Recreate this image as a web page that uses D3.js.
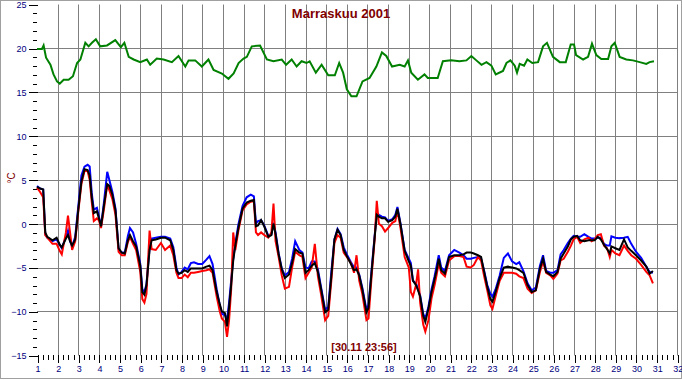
<!DOCTYPE html>
<html lang="fi">
<head>
<meta charset="UTF-8">
<title>Marraskuu 2001</title>
<style>
  body { margin: 0; background: #ffffff; }
  svg { display: block; font-family: "Liberation Sans", Arial, sans-serif; }
</style>
<script src="https://cdn.jsdelivr.net/npm/d3@7"></script>
</head>
<body>
<script>
// ---- data ----
const dayTicks = d3.range(1, 33);               // 1..32
const tempMajor = [-15, -10, -5, 0, 5, 10, 15, 20, 25];
const tempGrid = [-10, -5, 0, 5, 10, 15, 20];

// upper (green) series
const greenDays = [1.0,1.24,1.32,1.44,1.65,1.8,1.97,2.1,2.29,2.53,2.74,2.94,3.1,3.34,3.5,3.66,3.85,4.06,4.39,4.79,
  5.06,5.23,5.44,5.68,6.0,6.32,6.48,6.8,7.13,7.53,7.85,8.18,8.34,8.66,8.98,9.3,9.55,9.95,10.27,10.52,10.76,
  11.0,11.16,11.4,11.8,12.13,12.45,12.85,13.06,13.33,13.57,13.81,14.05,14.2,14.5,14.78,15.1,15.42,15.63,15.82,
  16.0,16.22,16.47,16.76,17.1,17.43,17.7,17.91,18.19,18.56,18.8,18.96,19.12,19.44,19.76,19.92,20.4,20.65,
  21.05,21.45,21.79,22.03,22.27,22.52,22.76,23.0,23.21,23.56,23.73,23.92,24.13,24.24,24.37,24.58,24.74,24.98,
  25.26,25.5,25.69,25.98,26.31,26.6,26.84,27.0,27.1,27.44,27.68,27.87,28.08,28.32,28.65,28.81,28.97,
  29.21,29.53,29.85,30.18,30.5,30.66,30.87];
const greenTemps = [19.9,19.9,20.3,18.9,18.1,17.0,16.2,15.95,16.4,16.4,16.8,18.3,18.7,20.6,20.2,20.6,21.0,20.2,20.3,20.9,
  20.1,20.6,19.0,18.7,18.4,18.7,18.1,18.8,18.7,18.4,19.1,17.9,18.6,18.6,17.9,18.7,17.5,17.1,16.5,17.1,18.3,
  18.8,19.0,20.2,20.3,18.7,18.5,18.7,18.1,18.7,17.9,18.5,18.3,18.5,17.2,18.1,16.9,16.9,18.3,17.2,
  15.3,14.5,14.5,16.2,16.6,17.9,19.5,19.1,17.9,18.1,17.9,18.6,17.2,16.4,17.0,16.6,16.6,18.5,
  18.6,18.5,18.6,19.1,18.6,18.1,18.4,18.0,17.0,17.4,18.3,18.6,18.0,17.2,18.2,18.0,18.7,18.3,
  18.4,20.2,20.6,19.0,18.4,18.4,20.4,20.4,19.2,18.7,19.0,20.5,19.2,18.75,18.75,20.2,20.6,
  19.0,18.7,18.6,18.4,18.2,18.4,18.5];

// lower series share one time axis
const lowDays = [
  1.0,1.15,1.3,1.4,1.5,1.75,1.95,
  2.1,2.2,2.4,2.5,2.6,2.7,2.85,
  3.0,3.15,3.3,3.45,3.55,3.65,3.75,3.9,
  4.0,4.1,4.25,4.4,4.5,4.65,4.8,4.95,
  5.1,5.25,5.4,5.5,5.65,5.8,
  6.0,6.1,6.2,6.3,6.45,6.55,6.75,
  7.0,7.2,7.45,7.6,7.75,7.85,
  8.0,8.15,8.3,8.45,8.6,8.8,
  9.0,9.2,9.35,9.5,9.7,9.85,9.95,
  10.1,10.2,10.3,10.4,10.5,10.6,10.75,10.95,
  11.15,11.35,11.5,11.6,11.7,11.85,
  12.0,12.2,12.35,12.45,12.55,12.7,12.85,
  13.0,13.2,13.35,13.5,13.7,13.85,
  14.0,14.15,14.3,14.45,14.6,14.75,14.95,
  15.1,15.25,15.4,15.55,15.7,15.85,
  16.0,16.2,16.35,16.47,16.6,16.75,16.95,
  17.05,17.2,17.35,17.45,17.55,17.7,17.85,
  18.0,18.2,18.35,18.45,18.6,18.8,
  19.0,19.1,19.2,19.35,19.45,19.55,19.7,19.8,19.95,
  20.1,20.25,20.35,20.45,20.57,20.75,20.95,
  21.2,21.45,21.65,21.8,
  22.0,22.15,22.35,22.5,22.65,22.8,22.95,
  23.05,23.2,23.4,23.6,23.8,
  24.0,24.2,24.35,24.55,24.75,24.95,
  25.15,25.35,25.5,25.65,25.85,
  26.0,26.2,26.35,26.5,26.7,26.85,
  26.98,27.15,27.3,27.5,27.7,27.85,
  28.0,28.15,28.3,28.45,28.6,28.73,28.81,
  29.0,29.2,29.42,29.6,29.77,
  30.0,30.25,30.5,30.66,30.82];
const blackTemps = [
  4.2,4.0,3.9,-1.0,-1.5,-1.9,-1.6,
  -2.4,-2.7,-1.7,-1.3,-2.0,-2.5,-1.8,
  1.6,4.8,6.2,6.1,5.5,3.0,1.2,1.4,
  0.6,-0.3,2.2,4.5,4.3,3.3,1.5,-2.8,
  -3.3,-3.4,-1.9,-1.3,-2.0,-2.6,
  -4.8,-7.8,-8.1,-7.0,-3.0,-1.9,-1.8,
  -1.6,-1.6,-1.9,-3.0,-5.3,-5.7,
  -5.6,-5.3,-5.5,-5.1,-5.1,-5.1,
  -5.1,-4.9,-4.8,-5.3,-7.8,-9.2,-10.0,
  -10.2,-11.7,-9.5,-7.0,-4.2,-2.5,-0.5,1.7,
  2.4,2.6,2.7,-0.3,-0.2,0.4,
  -0.3,-1.5,-1.3,0.0,-1.2,-3.5,-5.2,
  -6.2,-5.8,-4.5,-2.9,-3.3,-3.4,
  -5.6,-5.3,-4.8,-4.5,-5.5,-7.4,-10.1,
  -9.8,-6.0,-1.8,-0.7,-1.3,-3.0,
  -3.7,-4.6,-5.3,-5.2,-5.9,-7.5,-10.1,
  -9.6,-5.5,-1.5,1.0,0.8,0.6,0.6,
  0.2,0.4,0.8,1.7,-0.1,-3.1,
  -4.3,-4.8,-6.5,-7.0,-7.6,-8.3,-10.5,-11.2,-9.7,
  -7.8,-6.3,-5.3,-4.0,-5.3,-5.7,-3.8,
  -3.6,-3.6,-3.5,-3.3,
  -3.3,-3.4,-3.6,-3.8,-5.5,-7.2,-8.6,
  -8.9,-7.8,-6.2,-5.0,-4.9,
  -5.0,-5.1,-5.3,-5.6,-7.0,-7.8,
  -7.6,-5.1,-4.0,-5.5,-5.8,
  -6.0,-5.5,-4.0,-3.4,-2.6,-1.8,
  -1.5,-1.4,-1.9,-2.0,-1.9,-1.9,
  -1.9,-1.5,-1.8,-2.4,-2.9,-3.4,-2.6,
  -2.8,-3.0,-1.8,-2.7,-3.1,
  -3.6,-4.2,-4.9,-5.7,-5.4];
const blueTemps = [
  4.3,4.0,3.9,-1.2,-1.6,-2.0,-1.8,
  -2.4,-2.8,-1.5,-0.8,-2.0,-2.6,-1.5,
  2.0,5.5,6.5,6.7,6.5,3.5,1.6,1.8,
  0.8,-0.3,2.6,5.9,5.0,3.6,1.7,-2.9,
  -3.3,-3.3,-1.4,-0.5,-1.0,-2.3,
  -4.6,-7.5,-7.8,-6.9,-2.8,-1.7,-1.6,
  -1.5,-1.5,-1.7,-2.7,-5.0,-5.8,
  -5.5,-5.0,-5.2,-4.5,-4.4,-4.6,
  -4.6,-4.1,-3.7,-4.6,-7.5,-9.3,-10.3,
  -10.4,-11.0,-9.0,-6.5,-4.0,-2.3,-0.1,2.0,
  3.0,3.3,3.1,0.0,0.3,0.4,
  -0.2,-1.4,-1.2,0.1,-1.0,-3.4,-5.1,
  -5.9,-5.5,-4.0,-2.0,-3.0,-3.3,
  -5.0,-5.1,-4.3,-4.3,-5.2,-7.2,-9.8,
  -9.5,-5.5,-1.8,-0.6,-1.2,-2.7,
  -3.5,-4.4,-5.0,-5.0,-5.8,-7.3,-9.8,
  -9.3,-5.2,-1.3,1.2,1.0,0.8,0.7,
  0.3,0.5,1.0,1.9,0.0,-3.0,
  -4.0,-4.5,-6.5,-6.8,-7.5,-8.2,-10.3,-10.8,-9.5,
  -7.5,-6.0,-4.8,-3.6,-5.0,-5.4,-3.6,
  -3.0,-3.3,-3.6,-4.0,
  -4.0,-3.9,-3.8,-4.0,-5.4,-7.0,-8.0,
  -8.3,-7.5,-5.9,-3.9,-3.4,
  -4.3,-4.6,-4.4,-5.4,-6.8,-7.6,
  -7.3,-4.8,-3.6,-5.4,-5.6,
  -5.6,-5.3,-3.5,-3.0,-2.2,-1.7,
  -1.4,-1.5,-1.5,-1.2,-1.5,-1.7,
  -1.7,-1.6,-1.6,-2.3,-2.5,-2.5,-1.44,
  -1.6,-1.65,-1.6,-1.5,-2.3,
  -3.2,-3.9,-4.9,-5.5,-5.6];
const redTemps = [
  4.1,3.6,3.0,-1.3,-1.6,-2.3,-2.3,
  -3.1,-3.5,-1.0,0.9,-1.0,-3.0,-2.0,
  1.4,4.5,6.0,6.0,5.0,2.5,0.3,0.6,
  0.4,-0.5,1.8,4.5,3.8,2.8,1.0,-3.2,
  -3.6,-3.6,-2.1,-1.5,-2.3,-3.0,
  -5.5,-8.6,-9.0,-8.0,-0.8,-2.9,-3.0,
  -2.2,-3.0,-2.5,-3.6,-5.6,-6.2,
  -6.2,-5.8,-6.1,-5.6,-5.6,-5.5,
  -5.4,-5.3,-5.2,-5.6,-8.3,-10.0,-10.8,
  -11.2,-12.9,-11.0,-7.5,-1.0,-3.0,-0.8,1.5,
  2.2,2.5,2.6,-1.0,-1.3,-1.0,
  -1.3,-1.6,-1.0,2.3,-2.0,-3.8,-5.9,
  -7.4,-7.2,-5.0,-3.2,-3.6,-3.8,
  -6.2,-5.6,-5.0,-2.3,-6.0,-8.0,-11.0,
  -10.5,-6.5,-2.2,-1.3,-1.6,-3.3,
  -3.8,-4.5,-5.6,-3.6,-6.5,-8.0,-11.0,
  -10.8,-6.0,-1.7,2.6,0.0,-0.3,-0.9,
  -0.5,0.1,0.3,1.5,-0.5,-3.8,
  -5.0,-7.8,-8.3,-7.0,-5.2,-9.0,-11.5,-12.3,-11.0,
  -8.5,-7.0,-5.8,-4.5,-5.6,-6.0,-4.2,
  -3.7,-3.7,-3.8,-4.9,
  -5.0,-4.7,-3.8,-4.2,-6.0,-7.6,-9.3,
  -9.7,-8.3,-6.5,-5.6,-5.6,
  -5.6,-5.7,-6.0,-6.2,-7.4,-7.9,
  -7.6,-5.5,-4.3,-5.6,-5.9,
  -6.3,-5.7,-4.2,-4.0,-3.2,-2.5,
  -1.8,-1.5,-2.2,-1.8,-1.6,-2.0,
  -1.8,-1.3,-1.2,-2.5,-2.8,-3.8,-3.0,
  -3.4,-3.6,-2.5,-3.1,-3.6,
  -4.0,-4.7,-5.5,-5.9,-6.8];

const titleText = "Marraskuu 2001";
const stampText = "[30.11 23:56]";
const unitText = "°C";

// ---- layout ----
const width = 682, height = 380;
const plot = { left: 37, right: 677.3, top: 4.2, bottom: 355.3 };

const x = d3.scaleLinear().domain([1, 32]).range([plot.left, plot.right]);
const y = d3.scaleLinear().domain([-15, 25]).range([plot.bottom, plot.top]);

const svg = d3.select("body").append("svg")
    .attr("width", width)
    .attr("height", height);

// outer frame
svg.append("rect")
    .attr("x", 0.5).attr("y", 0.5)
    .attr("width", width - 1).attr("height", height - 2)
    .attr("fill", "#ffffff")
    .attr("stroke", "#a0a0a0");

// grid
const crisp = v => Math.round(v) + 0.5;
const grid = svg.append("g").attr("stroke", "#808080").attr("stroke-width", 1);
grid.selectAll(".vgrid")
    .data(dayTicks.filter(d => d > 1))
    .join("line")
    .attr("x1", d => crisp(x(d))).attr("x2", d => crisp(x(d)))
    .attr("y1", crisp(y(25))).attr("y2", crisp(y(-15)));
grid.selectAll(".hgrid")
    .data(tempGrid)
    .join("line")
    .attr("x1", plot.left).attr("x2", plot.right + 0.5)
    .attr("y1", d => crisp(y(d))).attr("y2", d => crisp(y(d)));

// y axis: major + minor ticks
const yMajor = svg.append("g")
    .attr("transform", `translate(${crisp(plot.left)},0.5)`)
    .call(d3.axisLeft(y).tickValues(tempMajor).tickSize(9).tickPadding(2));
const yMinor = svg.append("g")
    .attr("transform", `translate(${crisp(plot.left) - 1},0.5)`)
    .call(d3.axisLeft(y).tickValues(d3.range(-15, 26).filter(v => v % 5 !== 0)).tickSize(4).tickFormat(""));

// x axis: major + quarter-day minor ticks
const xMajor = svg.append("g")
    .attr("transform", `translate(0.5,${Math.round(plot.bottom)})`)
    .call(d3.axisBottom(x).tickValues(dayTicks).tickSize(8).tickPadding(3));
const xMinor = svg.append("g")
    .attr("transform", `translate(0.5,${Math.round(plot.bottom)})`)
    .call(d3.axisBottom(x).tickValues(d3.range(1, 32, 0.25).filter(v => v % 1 !== 0)).tickSize(5).tickFormat(""));

[yMajor, yMinor, xMajor, xMinor].forEach(g => {
    g.select(".domain").remove();
    g.selectAll("line").attr("stroke", "#000000").attr("shape-rendering", "crispEdges");
    g.selectAll("text").attr("fill", "#000080").attr("font-size", "9px")
        .attr("font-family", "'Liberation Sans', Arial, sans-serif");
});

// lines
const line = d3.line().x(d => x(d[0])).y(d => y(d[1]));
const series = [
    { days: greenDays, temps: greenTemps, color: "#008000" },
    { days: lowDays, temps: blueTemps, color: "#0000ff" },
    { days: lowDays, temps: redTemps, color: "#ff0000" },
    { days: lowDays, temps: blackTemps, color: "#000000" }
];
svg.append("g").selectAll("path")
    .data(series)
    .join("path")
    .attr("d", s => line(d3.zip(s.days, s.temps)))
    .attr("fill", "none")
    .attr("stroke", s => s.color)
    .attr("stroke-width", 2)
    .attr("stroke-linejoin", "miter");

// texts
svg.append("text")
    .attr("x", 341).attr("y", 18)
    .attr("text-anchor", "middle")
    .attr("font-size", "13px").attr("font-weight", "bold")
    .attr("fill", "#800000")
    .text(titleText);

svg.append("text")
    .attr("x", 364).attr("y", 351)
    .attr("text-anchor", "middle")
    .attr("font-size", "11px").attr("font-weight", "bold")
    .attr("fill", "#800000")
    .text(stampText);

svg.append("text")
    .attr("transform", "translate(15,178) rotate(-90)")
    .attr("text-anchor", "middle")
    .attr("font-size", "10px")
    .attr("fill", "#800000")
    .text(unitText);
</script>
</body>
</html>
